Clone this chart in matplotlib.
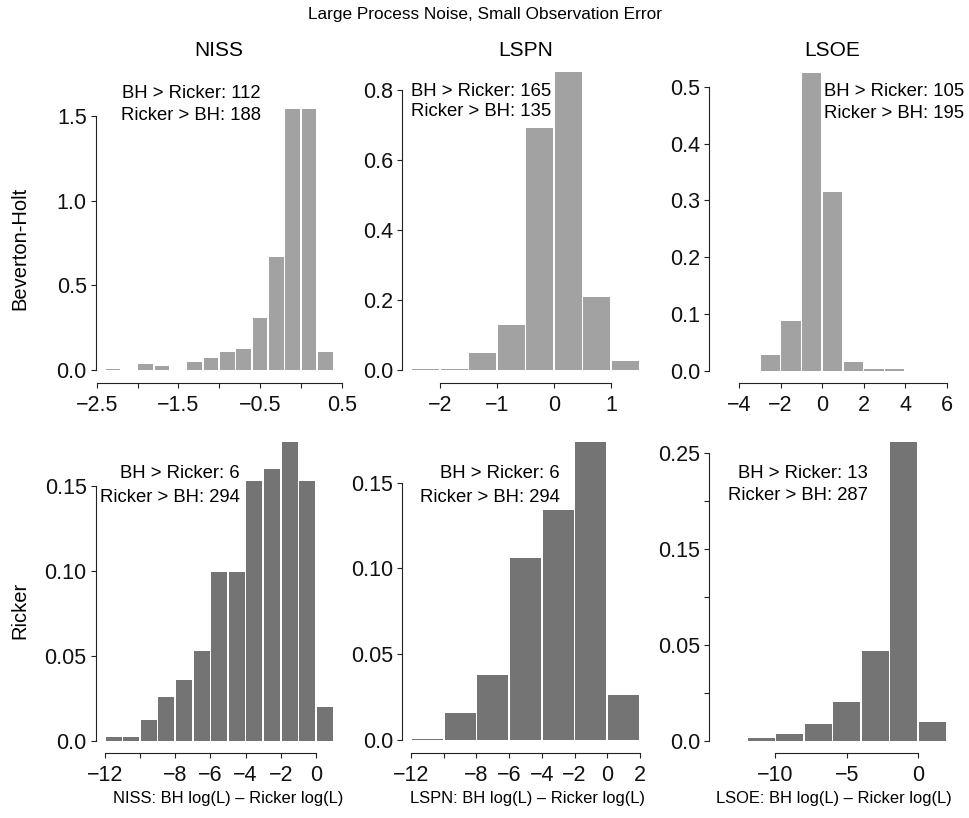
import numpy as np
import matplotlib
matplotlib.use("Agg")
import matplotlib.pyplot as plt

plt.rcParams['font.family'] = ['Liberation Sans', 'DejaVu Sans']

# ---- data (density histograms) ----
methods = ["NISS", "LSPN", "LSOE"]
models = ["Beverton-Holt", "Ricker"]

niss_bh_edges = [-2.4, -2.2, -2.0, -1.8, -1.6, -1.4, -1.2, -1.0, -0.8, -0.6, -0.4, -0.2, 0.0, 0.2, 0.4]
niss_bh_dens = [0.004, 0.0, 0.033, 0.024, 0.0, 0.047, 0.073, 0.106, 0.122, 0.305, 0.67, 1.54, 1.54, 0.106]

lspn_bh_edges = [-2.5, -2.0, -1.5, -1.0, -0.5, 0.0, 0.5, 1.0, 1.5]
lspn_bh_dens = [0.003, 0.003, 0.048, 0.13, 0.69, 0.85, 0.21, 0.027]

lsoe_bh_edges = [-3, -2, -1, 0, 1, 2, 3, 4]
lsoe_bh_dens = [0.028, 0.088, 0.525, 0.315, 0.015, 0.003, 0.003]

niss_rk_edges = [-12, -11, -10, -9, -8, -7, -6, -5, -4, -3, -2, -1, 0, 1]
niss_rk_dens = [0.0024, 0.0024, 0.012, 0.026, 0.036, 0.053, 0.0996, 0.0996, 0.153, 0.16, 0.176, 0.153, 0.0196]

lspn_rk_edges = [-12, -10, -8, -6, -4, -2, 0, 2]
lspn_rk_dens = [0.0004, 0.0155, 0.0377, 0.106, 0.134, 0.174, 0.026]

lsoe_rk_edges = [-12, -10, -8, -6, -4, -2, 0, 2]
lsoe_rk_dens = [0.0012, 0.0034, 0.0086, 0.020, 0.0466, 0.2616, 0.010]

bh_wins = [112, 165, 105, 6, 6, 13]
rk_wins = [188, 135, 195, 294, 294, 287]

# tick values and labels ("" = tick without label, as in the original)
xticks = [
    [-2.5, -2.0, -1.5, -1.0, -0.5, 0.0, 0.5],
    [-2, -1, 0, 1],
    [-4, -2, 0, 2, 4, 6],
    [-12, -10, -8, -6, -4, -2, 0],
    [-12, -10, -8, -6, -4, -2, 0, 2],
    [-10, -5, 0],
]
xlabels = [
    ["\u22122.5", "", "\u22121.5", "", "\u22120.5", "", "0.5"],
    ["\u22122", "\u22121", "0", "1"],
    ["\u22124", "\u22122", "0", "2", "4", "6"],
    ["\u221212", "", "\u22128", "\u22126", "\u22124", "\u22122", "0"],
    ["\u221212", "", "\u22128", "\u22126", "\u22124", "\u22122", "0", "2"],
    ["\u221210", "\u22125", "0"],
]
yticks = [
    [0.0, 0.5, 1.0, 1.5],
    [0.0, 0.2, 0.4, 0.6, 0.8],
    [0.0, 0.1, 0.2, 0.3, 0.4, 0.5],
    [0.0, 0.05, 0.10, 0.15],
    [0.0, 0.05, 0.10, 0.15],
    [0.0, 0.025, 0.05, 0.10, 0.15, 0.20, 0.25],
]
ylabels = [
    ["0.0", "0.5", "1.0", "1.5"],
    ["0.0", "0.2", "0.4", "0.6", "0.8"],
    ["0.0", "0.1", "0.2", "0.3", "0.4", "0.5"],
    ["0.0", "0.05", "0.10", "0.15"],
    ["0.0", "0.05", "0.10", "0.15"],
    ["0.0", "", "0.05", "", "0.15", "", "0.25"],
]

W, H = 970, 818


def px_axes(fig, left, top, width, height):
    return fig.add_axes([left / W, 1 - (top + height) / H, width / W, height / H])


def ftext(fig, x, y, s, **kw):
    fig.text(x / W, 1 - y / H, s, **kw)


# piecewise y axis used in the Ricker / LSOE panel
def pw_fwd(v):
    v = np.asarray(v, dtype=float)
    return np.where(v < 0.05, v / 0.025, 2 + (v - 0.05) / 0.05)


def pw_inv(p):
    p = np.asarray(p, dtype=float)
    return np.where(p < 2, p * 0.025, 0.05 + (p - 2) * 0.05)


def main():
    fig = plt.figure(figsize=(W / 100, H / 100), dpi=100)

    edges = [niss_bh_edges, lspn_bh_edges, lsoe_bh_edges,
             niss_rk_edges, lspn_rk_edges, lsoe_rk_edges]
    dens = [niss_bh_dens, lspn_bh_dens, lsoe_bh_dens,
            niss_rk_dens, lspn_rk_dens, lsoe_rk_dens]

    col_left = [95.7, 402, 709]
    col_w = 247
    row_top = [60, 420]
    row_h = [323, 333]
    xlims = [(-2.512, 0.512), (-2.66, 1.66), (-5.44, 6.44),
             (-12.52, 1.52), (-12.56, 2.56), (-14.64, 2.64)]
    ylims = [(-0.0768, 1.831), (-0.0371, 0.8857), (-0.0212, 0.547),
             (-0.0072, 0.1889), (-0.0076, 0.1866), (-0.0064, 0.284)]
    bar_col = ["#a2a2a2", "#747474"]
    # right edge and line centres of the count labels, in pixels
    ann = [(261, 93, 115), (551, 92, 112), (964, 92, 113),
           (240, 473, 497), (560, 473, 497), (868, 473, 496)]

    for i in range(6):
        r, c = divmod(i, 3)
        ax = px_axes(fig, col_left[c], row_top[r], col_w, row_h[r])
        if i == 5:
            ax.set_yscale("function", functions=(pw_fwd, pw_inv))
        e = np.array(edges[i], dtype=float)
        w = np.diff(e)
        gap = 1.6 * (xlims[i][1] - xlims[i][0]) / col_w
        ax.bar(e[:-1] + gap / 2, dens[i], width=w - gap, align="edge",
               color=bar_col[r], linewidth=0)
        ax.set_xlim(*xlims[i])
        ax.set_ylim(*ylims[i])

        for s in ["top", "right"]:
            ax.spines[s].set_visible(False)
        ax.spines["left"].set_bounds(yticks[i][0], yticks[i][-1])
        ax.spines["bottom"].set_bounds(xticks[i][0], xticks[i][-1])
        for s in ["left", "bottom"]:
            ax.spines[s].set_linewidth(0.8)
            ax.spines[s].set_color("#222222")

        ax.set_xticks(xticks[i])
        ax.set_xticklabels(xlabels[i])
        ax.set_yticks(yticks[i])
        ax.set_yticklabels(ylabels[i])
        ax.minorticks_off()
        ax.tick_params(direction="out", length=3.5, width=0.8, color="#222222",
                       labelsize=15.5, labelcolor="#111111")
        ax.tick_params(axis="x", pad=5)
        ax.tick_params(axis="y", pad=3)
        ax.patch.set_alpha(0)

        xr, y1, y2 = ann[i]
        ftext(fig, xr, y1, f"BH > Ricker: {bh_wins[i]}", ha="right", va="center", fontsize=13.3)
        ftext(fig, xr, y2, f"Ricker > BH: {rk_wins[i]}", ha="right", va="center", fontsize=13.3)

    ftext(fig, 485, 15, "Large Process Noise, Small Observation Error",
          ha="center", va="center", fontsize=12.4)
    for c, name in enumerate(methods):
        ftext(fig, col_left[c] + col_w / 2, 50, name, ha="center", va="center", fontsize=15)
    for c, (name, xc) in enumerate(zip(methods, [228, 527, 834])):
        ftext(fig, xc, 798, f"{name}: BH log(L) \u2013 Ricker log(L)",
              ha="center", va="center", fontsize=11.9)
    ftext(fig, 20, 248, models[0], rotation=90, ha="center", va="center", fontsize=14.5)
    ftext(fig, 20, 610, models[1], rotation=90, ha="center", va="center", fontsize=14.5)

    fig.savefig("out.png", dpi=100, facecolor="white")


if __name__ == "__main__":
    main()
